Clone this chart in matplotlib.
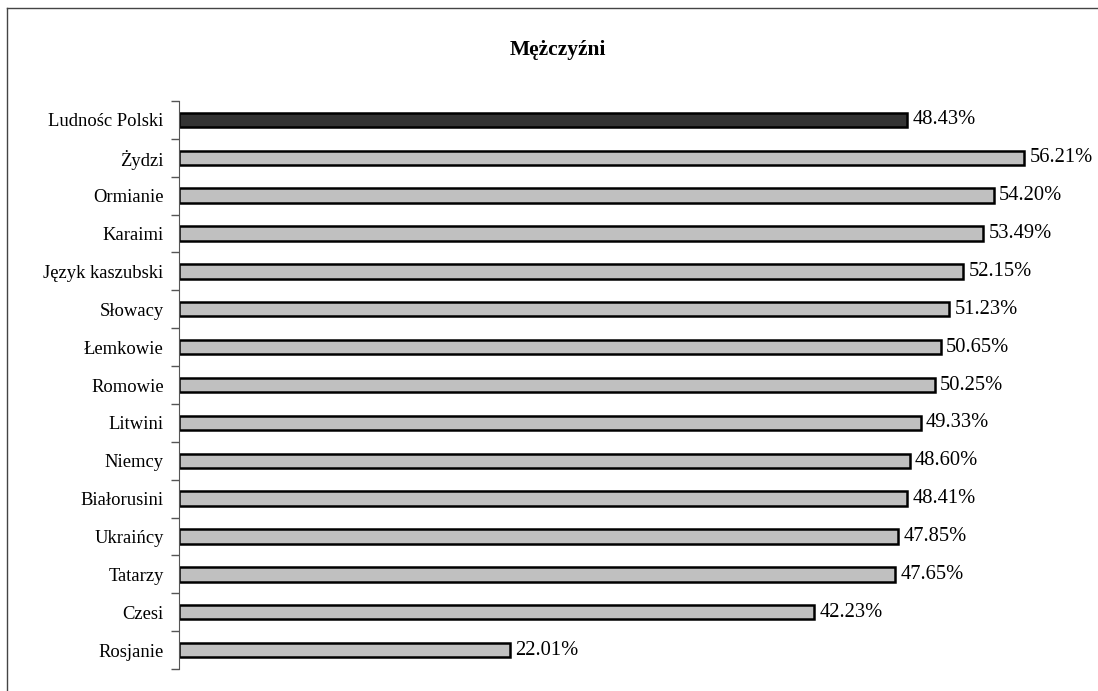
import numpy as np
import matplotlib.pyplot as plt
from matplotlib.lines import Line2D

plt.rcParams['font.family'] = ['Liberation Serif', 'DejaVu Serif']

categories = ['Ludnośc Polski', 'Żydzi', 'Ormianie', 'Karaimi', 'Język kaszubski',
              'Słowacy', 'Łemkowie', 'Romowie', 'Litwini', 'Niemcy', 'Białorusini',
              'Ukraińcy', 'Tatarzy', 'Czesi', 'Rosjanie']
values = [48.43, 56.21, 54.20, 53.49, 52.15, 51.23, 50.65, 50.25, 49.33, 48.60,
          48.41, 47.85, 47.65, 42.23, 22.01]
colors = ['#333333'] + ['#C0C0C0'] * (len(values) - 1)

fig = plt.figure(figsize=(10.98, 6.91), dpi=100)
ax = fig.add_axes([0.163, 0.0318, 0.8217, 0.822])

y = np.arange(len(categories))
ax.barh(y, values, height=0.38, color=colors, edgecolor='black', linewidth=1.8)

for yi, v in zip(y, values):
    ax.text(v + 0.35, yi, f'{v:.2f}%', va='center', ha='left', fontsize=14.8)

ax.set_xlim(0, 60)
ax.set_ylim(len(categories) - 0.5, -0.5)
ax.set_yticks(y)
ax.set_yticklabels(categories, fontsize=13.4)
ax.set_yticks(np.arange(len(categories) + 1) - 0.5, minor=True)
ax.tick_params(axis='y', which='major', length=0, pad=11)
ax.tick_params(axis='y', which='minor', length=6, width=1, color='#555555', direction='out')
ax.set_xticks([])
for s in ['top', 'right', 'bottom']:
    ax.spines[s].set_visible(False)
ax.spines['left'].set_color('#555555')

fig.text(0.508, 0.927, 'Mężczyźni', ha='center', va='center', fontsize=15.5, fontweight='bold')

# frame lines along top and left edge
fig.add_artist(Line2D([0.0065, 0.0065], [0, 0.988], color='#444444', lw=1, transform=fig.transFigure))
fig.add_artist(Line2D([0.0065, 1], [0.988, 0.988], color='#444444', lw=1, transform=fig.transFigure))

fig.savefig('out.png', dpi=100)
